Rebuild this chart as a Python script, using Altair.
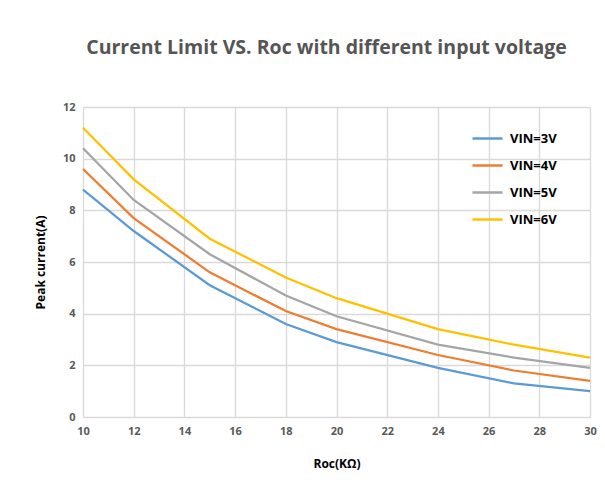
import altair as alt
import pandas as pd

roc = [10, 12, 15, 18, 20, 24, 27, 30]
vin3 = [8.8, 7.2, 5.1, 3.6, 2.9, 1.9, 1.3, 1.0]
vin4 = [9.6, 7.7, 5.6, 4.1, 3.4, 2.4, 1.8, 1.4]
vin5 = [10.4, 8.4, 6.3, 4.7, 3.9, 2.8, 2.3, 1.9]
vin6 = [11.2, 9.2, 6.9, 5.4, 4.6, 3.4, 2.8, 2.3]
series = ["VIN=3V", "VIN=4V", "VIN=5V", "VIN=6V"]
colors = ["#5B9BD5", "#ED7D31", "#A5A5A5", "#FFC000"]

rows = []
for name, vals in zip(series, [vin3, vin4, vin5, vin6]):
    for r, v in zip(roc, vals):
        rows.append({"Roc": r, "I": v, "series": name})
df = pd.DataFrame(rows)

chart = alt.Chart(df).mark_line(strokeWidth=2.25).encode(
    x=alt.X("Roc:Q", title="Roc(KΩ)",
            scale=alt.Scale(domain=[10, 30], nice=False, zero=False),
            axis=alt.Axis(values=list(range(10, 31, 2)), domain=False, ticks=False,
                          labelFlush=False,
                          labelPadding=8, titlePadding=22, gridColor="#D9D9D9",
                          gridWidth=1.3)),
    y=alt.Y("I:Q", title="Peak current(A)",
            scale=alt.Scale(domain=[0, 12], nice=False),
            axis=alt.Axis(values=list(range(0, 13, 2)), domain=False, ticks=False,
                          labelFlush=False,
                          labelPadding=8, titlePadding=15, gridColor="#D9D9D9",
                          gridWidth=1.3)),
    color=alt.Color("series:N", scale=alt.Scale(domain=series, range=colors),
                    legend=alt.Legend(title=None, orient="none", legendX=388, legendY=15,
                                      symbolType="stroke", symbolSize=900,
                                      symbolStrokeWidth=2.5, rowPadding=3,
                                      labelFont="Open Sans", labelFontWeight="bold",
                                      labelFontSize=13, labelColor="#000000",
                                      labelOffset=6)),
).properties(
    width=507, height=310,
    title=alt.TitleParams("Current Limit VS. Roc with different input voltage",
                          font="Open Sans", fontSize=19.5, fontWeight="bold",
                          color="#555555", offset=43, dx=-10),
    autosize=alt.AutoSizeParams(type="none"),
    padding={"left": 75, "top": 99, "right": 7, "bottom": 60},
).configure_axis(
    labelFont="Open Sans", labelFontSize=11, labelFontWeight="bold", labelColor="#595959",
    titleFont="Open Sans", titleFontSize=12, titleFontWeight="bold", titleColor="#000000",
).configure_view(stroke=None)

chart.save("out.html", embed_options={"renderer": "svg", "actions": False})
